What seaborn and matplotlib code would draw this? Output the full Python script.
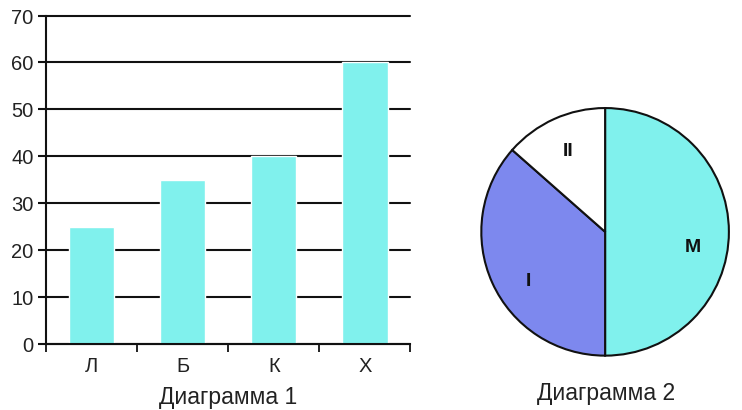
import matplotlib
matplotlib.use('Agg')
import matplotlib.pyplot as plt
import pandas as pd
import seaborn as sns

# Data
bar_labels = ['Л', 'Б', 'К', 'Х']
bar_values = [25, 35, 40, 60]
pie_labels = ['М', 'I', 'II']
pie_values = [50, 36.5, 13.5]
pie_colors = ['#80f1ed', '#7d88ee', '#ffffff']
y_ticks = [0, 10, 20, 30, 40, 50, 60, 70]

sns.set_style('white')
plt.rcParams['font.family'] = ['Liberation Sans', 'DejaVu Sans']

fig = plt.figure(figsize=(7.42, 4.105), dpi=100)

# Diagram 1: bar chart
ax = fig.add_axes([0.062, 0.161, 0.491, 0.8])
df = pd.DataFrame({'cat': bar_labels, 'val': bar_values})
sns.barplot(data=df, x='cat', y='val', color='#80f1ed', saturation=1,
            width=0.5, ax=ax)
for p in ax.patches:
    p.set_zorder(5)

ax.set_ylim(0, 70)
ax.set_xlim(-0.5, len(bar_labels) - 0.5)
ax.set_yticks(y_ticks)
ax.set_yticklabels([str(t) for t in y_ticks], fontsize=14.5, color='#222222')
ax.grid(False)
# horizontal rules behind the bars
for t in y_ticks:
    ax.axhline(t, color='#111111', linewidth=1.5, zorder=1, clip_on=False)

# ticks between categories, labels centred under the bars
ax.set_xticks([i - 0.5 for i in range(len(bar_labels) + 1)])
ax.set_xticklabels([])
ax.set_xticks(range(len(bar_labels)), minor=True)
ax.set_xticklabels(bar_labels, minor=True, fontsize=14.5, color='#222222')
ax.tick_params(axis='x', which='major', direction='out', length=6, width=1.3,
               color='#111111', bottom=True)
ax.tick_params(axis='x', which='minor', length=0, pad=9)
ax.tick_params(axis='y', direction='out', length=6, width=1.5,
               color='#111111', left=True, pad=3)

for side in ['top', 'right']:
    ax.spines[side].set_visible(False)
ax.spines['left'].set_color('#111111')
ax.spines['left'].set_linewidth(1.5)
ax.spines['bottom'].set_color('#111111')
ax.spines['bottom'].set_linewidth(1.5)
ax.spines['bottom'].set_zorder(6)
ax.set_ylabel('')
ax.set_xlabel('Диаграмма 1', fontsize=16.5, color='#222222', labelpad=7)

# Diagram 2: pie chart
ax2 = fig.add_axes([0.647, 0.129, 0.337, 0.61])
wedges, texts = ax2.pie(pie_values, labels=pie_labels, colors=pie_colors,
                        startangle=90, counterclock=False, labeldistance=0.72,
                        wedgeprops=dict(edgecolor='#111111', linewidth=1.5),
                        textprops=dict(fontsize=14, fontweight='bold',
                                       color='#111111', ha='center',
                                       va='center'))
# labels in the book sit a little lower than the wedge middles
texts[0].set_position((0.71, -0.12))
texts[1].set_position((-0.62, -0.40))
ax2.set_xlim(-1.01, 1.01)
ax2.set_ylim(-1.01, 1.01)
ax2.set_aspect('equal')
fig.text(0.817, 0.041, 'Диаграмма 2', fontsize=16.5, color='#222222',
         ha='center', va='center')

fig.savefig('out.png', dpi=100)
